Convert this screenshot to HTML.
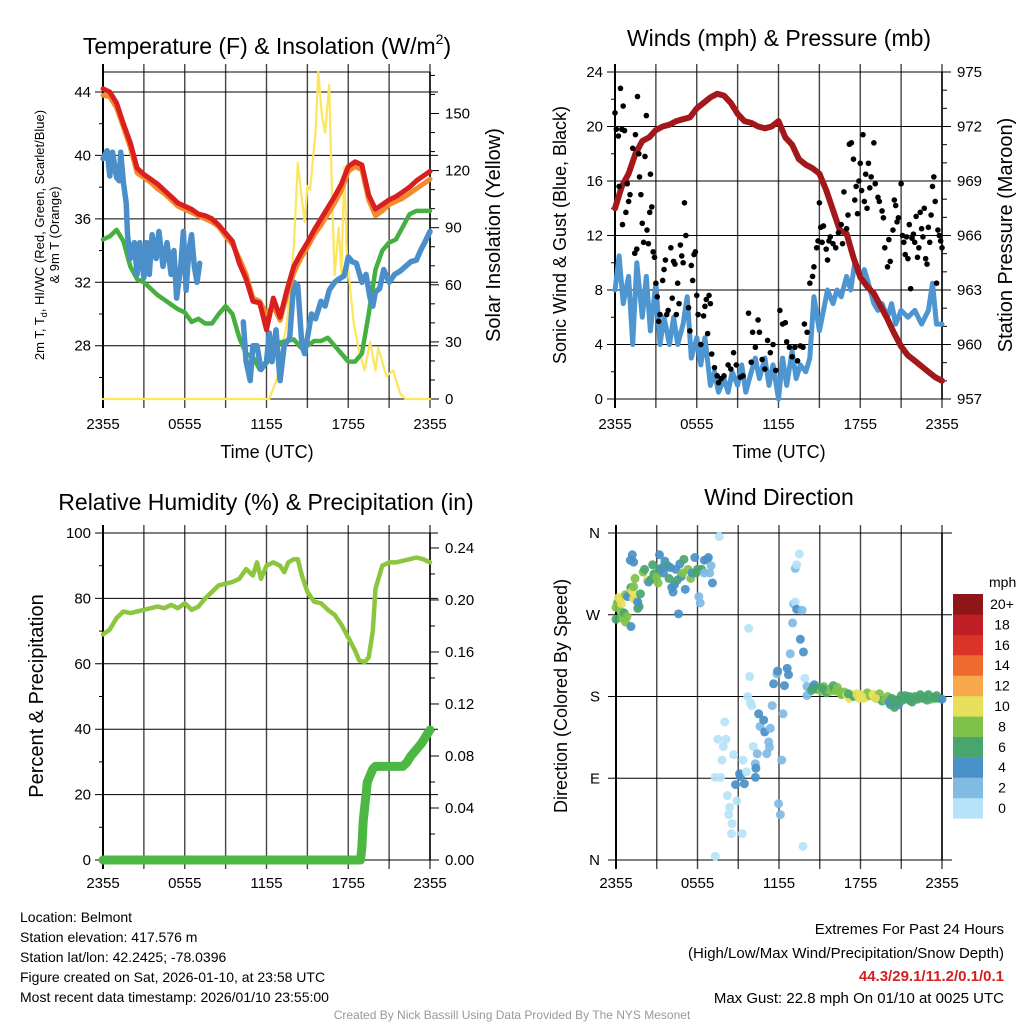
<!DOCTYPE html>
<html><head><meta charset="utf-8"><style>
html,body{margin:0;padding:0;background:#fff;}
svg{display:block;font-family:"Liberation Sans",Arial,sans-serif;}
</style></head><body>
<svg id="s" width="1024" height="1024" viewBox="0 0 1024 1024" xmlns="http://www.w3.org/2000/svg">
<rect width="1024" height="1024" fill="#fff"/>
<text x="267" y="54" font-size="23" text-anchor="middle">Temperature (F) &amp; Insolation (W/m<tspan font-size="14" dy="-10">2</tspan><tspan dy="10">)</tspan></text>
<text x="779" y="46" font-size="23" text-anchor="middle">Winds (mph) &amp; Pressure (mb)</text>
<text x="266" y="510" font-size="23" text-anchor="middle">Relative Humidity (%) &amp; Precipitation (in)</text>
<text x="779" y="505" font-size="23" text-anchor="middle">Wind Direction</text>
<g font-size="18">
<text x="267" y="458" text-anchor="middle">Time (UTC)</text>
<text x="779" y="458" text-anchor="middle">Time (UTC)</text>
<text transform="translate(44,235) rotate(-90)" text-anchor="middle" font-size="13">2m T, T<tspan font-size="9" dy="3">d</tspan><tspan dy="-3">, HI/WC (Red, Green, Scarlet/Blue)</tspan></text>
<text transform="translate(59,235) rotate(-90)" text-anchor="middle" font-size="13">&amp; 9m T (Orange)</text>
<text transform="translate(500,235) rotate(-90)" text-anchor="middle" font-size="20">Solar Insolation (Yellow)</text>
<text transform="translate(566,235) rotate(-90)" text-anchor="middle">Sonic Wind &amp; Gust (Blue, Black)</text>
<text transform="translate(1012,235) rotate(-90)" text-anchor="middle" font-size="20">Station Pressure (Maroon)</text>
<text transform="translate(43,696) rotate(-90)" text-anchor="middle" font-size="20">Percent &amp; Precipitation</text>
<text transform="translate(567,696) rotate(-90)" text-anchor="middle">Direction (Colored By Speed)</text>
</g>
<g font-size="14">
<text x="20" y="922">Location: Belmont</text>
<text x="20" y="942">Station elevation: 417.576 m</text>
<text x="20" y="962">Station lat/lon: 42.2425; -78.0396</text>
<text x="20" y="982">Figure created on Sat, 2026-01-10, at 23:58 UTC</text>
<text x="20" y="1002">Most recent data timestamp: 2026/01/10 23:55:00</text>
<text x="1004" y="934" text-anchor="end" font-size="15">Extremes For Past 24 Hours</text>
<text x="1004" y="958" text-anchor="end" font-size="15">(High/Low/Max Wind/Precipitation/Snow Depth)</text>
<text x="1004" y="981" text-anchor="end" font-size="15" font-weight="bold" fill="#d42020">44.3/29.1/11.2/0.1/0.1</text>
<text x="1004" y="1003" text-anchor="end" font-size="15">Max Gust: 22.8 mph On 01/10 at 0025 UTC</text>
<text x="512" y="1019" text-anchor="middle" font-size="12" fill="#999">Created By Nick Bassill Using Data Provided By The NYS Mesonet</text>
</g>
</svg>
<script>
const xTickLabels=["2355","0555","1155","1755","2355"];
const tempHours=[0,0.5,1,1.5,2,2.5,3,3.5,4,4.5,5,5.5,6,6.5,7,7.5,8,8.5,9,9.5,10,10.5,11,11.5,12,12.5,13,13.5,14,14.5,15,15.5,16,16.5,17,17.5,18,18.5,19,19.5,20,20.5,21,21.5,22,22.5,23,23.5,24];
const tempRed=[44.2,44.0,43.3,42.0,40.8,39.2,38.8,38.5,38.2,37.8,37.4,37.0,36.8,36.6,36.3,36.2,36.0,35.6,35.1,34.6,33.2,32.2,30.8,30.7,29.0,31.0,29.8,31.5,33.0,33.8,34.5,35.3,36.0,36.7,37.4,38.2,39.3,39.6,39.4,37.5,36.6,36.9,37.2,37.4,37.7,38.0,38.4,38.7,39.0];
const tempOrange=[43.8,43.7,43.0,41.8,40.5,38.9,38.6,38.3,37.9,37.6,37.2,36.8,36.6,36.4,36.2,36.0,35.8,35.5,34.9,34.4,33.5,32.5,31.0,30.8,30.0,30.5,29.6,31.2,32.6,33.5,34.2,35.0,35.6,36.3,37.0,37.8,39.0,39.3,39.1,37.2,36.2,36.5,36.9,37.1,37.3,37.6,37.9,38.2,38.5];
const tempGreen=[34.7,34.9,35.3,34.6,33.0,32.2,32.0,31.6,31.2,30.9,30.6,30.3,30.1,29.5,29.7,29.4,29.4,30.0,30.5,30.0,28.5,27.5,27.3,26.5,26.9,27.5,28.2,28.3,28.4,27.9,28.0,28.3,28.3,28.5,28.0,27.5,27.0,27.0,27.5,30.0,32.8,34.0,34.5,34.7,35.5,36.3,36.5,36.5,36.5];
const chillHours=[0,0.3,0.5,0.7,1,1.2,1.3,1.5,1.7,1.8,2,2.3,2.5,2.7,3,3.2,3.4,3.6,3.9,4.1,4.4,4.7,5,5.2,5.4,5.7,5.9,6.1,6.3,6.5,6.7,6.9,7.1,null,10.3,10.5,10.8,11,11.3,11.6,12,12.2,12.4,12.7,13,13.3,13.7,14,14.3,14.6,14.8,15,15.3,15.6,16,16.3,16.6,17,17.3,17.7,18,18.3,18.6,19,19.3,19.6,19.8,20,20.3,20.6,21,21.4,21.8,22.2,22.6,23,23.3,23.6,24];
const chillBlue=[39.8,40.3,38.7,40.2,38.6,38.4,40.2,38.3,37,35,33.5,34.5,32.5,34.5,32.3,34.5,32.5,35,33.5,35.2,33,34.5,32.5,34,31,33,35.2,31.5,34,35,33,32,33.2,null,29.5,27,25.8,28,28,26.5,27,28.8,27,29,25.8,28,28.5,32,31.8,28,27.5,28.5,30,29.7,30.8,30.5,31.5,32,32.2,32.4,33.6,33.3,33.2,32,32.5,31,30.5,31.4,31.6,32.8,32,32.5,32.7,33,33.3,33.4,34,34.5,35.2];
const solarHours=[0,12.2,12.75,13.5,14,14.3,14.6,14.8,15,15.2,15.6,15.8,16.05,16.3,16.6,16.8,17,17.3,17.5,17.7,17.9,18.4,18.8,19.2,19.6,20,20.2,20.8,21.3,21.8,22.2,24];
const solarValues=[0,0,10,40,80,124,105,93,112,110,140,172,150,140,165,110,65,90,65,122,75,40,25,15,30,15,27,12,15,3,0,0];
const windHours=[0,0.3,0.6,1,1.3,1.6,2,2.3,2.6,3,3.3,3.6,4,4.3,4.6,5,5.3,5.6,6,6.3,6.6,7,7.3,7.6,8,8.3,8.6,9,9.3,9.6,10,10.3,10.6,11,11.3,11.6,12,12.3,12.6,13,13.3,13.6,14,14.3,14.6,15,15.3,15.6,16,16.3,16.6,17,17.3,17.6,18,18.3,18.6,19,19.3,19.6,20,20.3,20.6,21,21.5,22,22.5,23,23.3,23.6,24];
const windSpeed=[8,10.5,7,9,4,10,6,9,5,8.5,4,6,4,6,4,5.5,7.5,3,4.5,2.5,4.5,1,2,0.5,1.5,0.5,2,1,2.5,0.5,2,3,1.5,3,1,2.5,0,3,1,3.5,1.5,2.5,2,3,7.5,5,6.5,8,7,8,7.5,9,8,10,9,9.5,8.5,7,6.5,7,6,7,5.5,6.5,6,6.5,5.5,6.5,8.5,5.5,5.5];
const pressHours=[0,0.5,1,1.5,2,2.5,3,3.5,4,4.5,5,5.5,6,6.5,7,7.5,8,8.5,9,9.5,10,10.5,11,11.5,12,12.5,13,13.5,14,14.5,15,15.5,16,16.5,17,17.5,18,18.5,19,19.5,20,20.5,21,21.5,22,22.5,23,23.5,24];
const pressValues=[967.5,968.7,969.4,970.5,971.2,971.4,971.8,972.0,972.1,972.3,972.4,972.5,973.0,973.3,973.6,973.8,973.7,973.3,972.7,972.3,972.2,972.0,971.9,972.0,972.3,971.4,971.0,970.2,969.9,969.7,969.4,968.5,967.4,966.3,966.1,964.8,963.7,963.2,962.8,962.1,961.4,960.6,959.9,959.4,959.1,958.8,958.5,958.2,958.0];
const gustHours=[0,0.1,0.25,0.4,0.3,0.6,0.7,0.5,0.9,1,1.1,0.55,0.8,1.3,1.45,1.5,1.6,1.65,1.75,1.8,1.9,2,2.1,2.2,2.3,2.35,2.45,2.55,2.6,2.7,2.8,2.9,3,3.1,3.2,3.3,3.5,3.6,3.7,3.8,3.9,4.1,4.2,4.3,4.4,4.5,4.6,4.7,4.8,4.9,5,5.1,5.2,5.4,5.5,5.6,5.7,5.8,5.9,6,6.1,6.3,6.5,6.6,6.7,6.8,6.9,7,7.1,7.3,7.5,7.6,7.8,8,8.3,8.5,8.7,8.9,9.2,9.4,9.8,10,10.1,10.3,10.5,10.6,10.8,11,11.2,11.4,11.6,11.8,12.1,12.3,12.5,12.6,12.8,13,13.2,13.4,13.6,13.8,13.9,14.1,14.3,14.5,14.6,14.8,14.9,15,15.1,15.2,15.3,15.5,15.6,15.7,15.8,16,16.2,16.4,16.6,16.7,16.8,17,17.1,17.2,17.35,17.5,17.6,17.7,17.8,17.9,18,18.1,18.2,18.3,18.4,18.5,18.6,18.7,18.8,19,19.1,19.3,19.4,19.6,19.7,19.8,20,20.1,20.2,20.4,20.5,20.6,20.7,20.8,21,21.1,21.2,21.3,21.4,21.5,21.6,21.7,21.8,21.9,22,22.1,22.2,22.3,22.4,22.5,22.6,22.7,22.8,22.9,23,23.1,23.2,23.3,23.4,23.5,23.6,23.7,23.8,23.9,24];
const gustValues=[21,19.8,19.3,22.8,15.6,21.5,19.7,19.8,15.8,14.5,15,12.8,13.7,18.4,10.7,19.4,11,22.2,18,16.3,15,12.9,11.5,17.8,20.8,12.4,11.4,13.7,16.5,14.1,10.8,10.4,8.5,7.5,5.7,6.2,8.7,9.5,10.2,6.2,6.5,11.1,7.4,10.1,9.9,6.2,8.5,7,11.3,10.5,10,14.4,12,6.7,5,9.8,8.7,10.6,10.8,7.6,6.2,4,6.1,6.8,7.3,4.8,7.6,7,3.3,2.3,1.7,1.2,1.5,1.7,2.5,2.2,3.4,2.5,1.6,1.7,6.3,2.7,4.9,3.8,5.8,4.9,2.9,2.2,4.3,3.4,4,2.1,6.5,5.5,5.6,4.2,3.8,3.1,3.8,2.8,3.9,3.8,5.5,4.9,8.5,9,9.7,11.1,11.6,14.4,12.6,11.5,12.7,11,10.2,11.6,11.9,11.4,11.1,12.2,12.8,11.4,15.2,12.5,13.5,18.7,18.8,17.6,14.6,15.6,13.6,16,17.3,15.3,19.4,14.5,16.5,14,17.3,15.5,16.3,18.8,15.8,14.8,14.5,13.8,13.3,11.1,9.7,11.7,10.1,12.4,14.6,14.2,13,13.3,15.8,12,11.5,10.6,11.9,10.3,12.8,8.1,11.8,12.1,11.5,13.4,10.4,11.1,13.7,12.5,11.9,14,10.3,9.9,12.6,11.5,13.5,15.6,16.3,14.5,8.5,12.4,12,11.6,11.1];
const rhHours=[0,0.5,1,1.5,2,2.5,3,3.5,4,4.5,5,5.5,6,6.5,7,7.5,8,8.5,9,9.5,10,10.5,11,11.3,11.6,12,12.5,13,13.3,13.6,14,14.3,14.6,15,15.5,16,16.5,17,17.5,18,18.5,18.8,19.2,19.5,19.8,20,20.5,21,21.5,22,22.5,23,23.5,24];
const rhValues=[69,70.5,74,76,75.5,76,76.5,77,77.5,77,78,77,78.5,76.5,77.5,80,82,84,84.5,85,86,89,87,91,86,90,91,90,88,91,92,92,87,82,79,78.5,76.5,75,72,68,64,61,60.5,62,70,83,90,91,91,91.5,92,92.5,92,91];
const precipHours=[0,18.9,19.0,19.1,19.2,19.3,19.4,19.6,19.8,20,22,22.3,22.6,23,23.4,23.8,24];
const precipValues=[0,0,0.01,0.03,0.04,0.05,0.06,0.065,0.07,0.072,0.072,0.075,0.08,0.085,0.09,0.097,0.1];
const dirHours=[0,0,0.1,0.2,0.3,0.4,0.4,0.5,0.6,0.7,0.7,0.8,0.85,1.05,1.1,1.2,1.3,1.4,1.5,1.6,1.7,1.3,1.2,1.1,1.3,1.6,1.8,2.0,2.1,2.3,2.4,2.6,2.7,2.8,3.0,3.1,3.2,3.4,3.5,3.6,3.2,3.8,3.9,4.0,4.1,4.2,4.3,4.4,4.5,4.6,4.7,4.8,4.9,5.0,5.1,5.3,5.5,5.6,5.8,5.9,6.0,6.1,6.2,6.3,6.5,6.5,6.7,6.8,6.9,7.0,7.1,7.6,7.31,7.3,7.7,7.5,8.1,8.0,7.9,7.8,8.2,8.37,8.3,8.54,8.5,8.66,8.9,8.8,9.1,9.15,9.45,9.3,9.35,9.6,9.77,9.84,9.7,9.9,10.0,10.1,10.26,10.3,10.26,10.4,10.5,10.6,10.87,10.95,11.24,11.1,11.3,11.36,11.5,11.6,11.85,11.9,11.97,12.1,12.2,12.3,12.4,12.6,12.7,12.83,13.0,13.08,13.2,13.3,13.57,13.7,13.8,13.2,13.3,13.5,13.77,13.9,14.06,14.06,14.3,14.5,14.6,14.8,15,15.1,15.3,15.5,15.6,15.8,16,16.1,16.3,16.5,16.6,16.8,17,17.2,17.4,17.5,17.7,17.9,18,18.2,18.4,18.5,18.7,18.9,19,19.2,19.4,19.6,19.8,20,20.2,20.3,20.5,20.6,20.8,21,21.1,21.3,21.5,21.6,21.8,22,22.2,22.4,22.6,22.8,23,23.2,23.4,23.6,23.8,24,20.1,20.4,20.7,21.2,21.7,22.3,22.9,23.5,15.2,16.2,17.1,18.1,19.1,14.4];
const dirValues=[265,278,283,289,287,282,273,266,272,262,292,268,290,330,300,296,301,310,286,277,279,328,336,257,288,284,293,317,320,308,306,309,325,315,312,305,320,322,316,329,336,324,310,322,300,295,303,320,308,271,326,312,316,331,298,320,310,316,333,316,320,290,283,320,330,316,331,333,316,324,305,356,4,91,91,133,133,152,125,110,71,58,50,40,29,116,65,83,95,92,84,29,110,97,255,202,180,173,170,125,106,101,91,117,161,147,154,141,130,117,124,145,170,194,205,208,62,50,110,161,192,211,204,227,261,282,284,276,243,275,229,321,325,337,15,200,191,181,186,190,193,188,190,186,191,184,188,186,192,188,190,185,182,185,182,178,182,180,183,178,182,178,179,184,181,182,182,178,183,175,176,180,171,178,168,176,171,181,176,181,177,180,174,180,177,182,178,180,182,177,179,181,178,177,174,176,173,178,175,179,176,178,189,186,183,180,178,187];
const dirSpeed=[6,8,8,10,10,10,8,8,6,8,8,8,4,4,6,10,8,8,4,6,6,4,4,4,10,4,6,8,6,10,4,6,6,6,8,8,6,4,4,4,4,6,6,4,4,4,4,4,6,4,4,4,8,6,4,8,8,4,4,6,6,2,2,6,4,2,4,4,2,2,4,0,0,0,0,0,0,0,0,0,0,0,0,0,0,0,0,4,4,4,4,0,0,0,0,0,0,0,0,0,2,4,4,2,4,2,4,4,2,2,2,2,2,4,2,4,2,2,2,2,4,4,4,2,2,2,0,4,4,2,4,2,0,0,0,0,2,2,2,6,4,6,6,8,8,6,8,8,6,6,8,8,8,8,10,10,10,6,10,10,10,10,10,8,8,10,10,6,8,6,8,8,6,6,6,6,4,6,6,6,6,6,6,6,6,6,6,6,6,8,6,6,6,4,4,6,6,6,6,6,6,6,6,8,6,10,10,6,6];
const speedBinLabels=["0","2","4","6","8","10","12","14","16","18","20+"];
const speedBinColors=["#b6e3f8","#80bbe4","#4a90c8","#49a56e","#7fc24a","#e6e05a","#f6a84a","#ef6a2e","#dc3328","#be1e24","#8e1518"];

const NS="http://www.w3.org/2000/svg";
const svg=document.getElementById('s');
function mk(tag,attrs,parent){const e=document.createElementNS(NS,tag);for(const k in attrs)e.setAttribute(k,attrs[k]);(parent||svg).appendChild(e);return e;}
function lin(d0,d1,r0,r1){return v=>r0+(v-d0)*(r1-r0)/(d1-d0);}

const panels=[
 {name:'temperature',x0:103,x1:430,yT:72,yB:399,L:[24.64,45.26],Lmaj:[28,32,36,40,44],Lmin:[26,30,34,38,42],R:[0,171.8],Rmaj:[0,30,60,90,120,150],Rmin:[10,20,40,50,70,80,100,110,130,140,160,170],Rfmt:v=>String(v),lab:429},
 {name:'winds',x0:615,x1:942,yT:72,yB:399,L:[0,24],Lmaj:[0,4,8,12,16,20,24],Lmin:[2,6,10,14,18,22],R:[957,975],Rmaj:[957,960,963,966,969,972,975],Rmin:[958,959,961,962,964,965,967,968,970,971,973,974],Rfmt:v=>String(v),lab:429},
 {name:'humidity',x0:103,x1:430,yT:533,yB:860,L:[0,100],Lmaj:[0,20,40,60,80,100],Lmin:[10,30,50,70,90],R:[0,0.2515],Rmaj:[0,0.04,0.08,0.12,0.16,0.2,0.24],Rmin:[0.02,0.06,0.1,0.14,0.18,0.22],Rfmt:v=>v.toFixed(2),lab:888},
 {name:'direction',x0:616,x1:942,yT:533,yB:860,L:[0,360],Lmaj:[0,90,180,270,360],Lmin:[],R:null,Lfmt:v=>({0:'N',90:'E',180:'S',270:'W',360:'N'})[v],lab:888}
];
panels.forEach(p=>{
 p.X=lin(0,24,p.x0,p.x1);p.YL=lin(p.L[0],p.L[1],p.yB,p.yT);if(p.R)p.YR=lin(p.R[0],p.R[1],p.yB,p.yT);
 const g=mk('g',{});
 
 
 for(let h=0;h<=24;h+=3){const x=p.X(h);
  const gl=mk('line',{x1:x,x2:x,y1:p.yT-8,y2:p.yB+9,stroke:(h==0)?'#000':'#444','stroke-width':(h==0)?2:1.4},g);
  
  
  if(h%6==0){const t=mk('text',{x:x,y:p.lab,'font-size':15,'text-anchor':'middle'},g);t.textContent=xTickLabels[h/6];
   
   }
 }
 const right=p.R?p.x1+8:p.x1+10;
 p.Lmaj.forEach(v=>{const y=p.YL(v);
  const l=mk('line',{x1:p.x0-8,x2:right,y1:y,y2:y,stroke:'#000','stroke-width':1},g);
  
  
  const t=mk('text',{x:p.name=='direction'?p.x0-16:p.x0-12,y:y+5,'font-size':15,'text-anchor':'end'},g);t.textContent=p.Lfmt?p.Lfmt(v):String(v);
  
  });
 p.Lmin.forEach(v=>{const y=p.YL(v);mk('line',{x1:p.x0-4,x2:p.x0,y1:y,y2:y,stroke:'#000'},g);});
 mk('line',{x1:p.x0,x2:p.x1,y1:p.yT,y2:p.yT,stroke:'#000'},g);
 mk('line',{x1:p.x0,x2:p.x1,y1:p.yB,y2:p.yB,stroke:'#000'},g);
 mk('line',{x1:p.x1,x2:p.x1,y1:p.yT,y2:p.yB,stroke:'#000','stroke-width':1.5},g);
 if(p.R){
  p.Rmaj.forEach(v=>{const y=p.YR(v);mk('line',{x1:p.x1,x2:p.x1+9,y1:y,y2:y,stroke:'#000'},g);
   const t=mk('text',{x:p.x1+15,y:y+5,'font-size':15},g);t.textContent=p.Rfmt(v);
   
   });
  p.Rmin.forEach(v=>{const y=p.YR(v);if(y>=p.yT-1)mk('line',{x1:p.x1,x2:p.x1+5,y1:y,y2:y,stroke:'#000'},g);});
 }
});
function pathFrom(hs,vs,X,Y){let d='',pen=false;for(let i=0;i<hs.length;i++){if(hs[i]==null||vs[i]==null){pen=false;continue;}d+=(pen?'L':'M')+X(hs[i]).toFixed(1)+','+Y(vs[i]).toFixed(1);pen=true;}return d;}
function line(name,hs,vs,X,Y,color,w){const e=mk('path',{d:pathFrom(hs,vs,X,Y),fill:'none',stroke:color,'stroke-width':w,'stroke-linejoin':'round','stroke-linecap':'round'});
 
 return e;}
const P1=panels[0],P2=panels[1],P3=panels[2],P4=panels[3];
line('solar-insolation-line',solarHours,solarValues,P1.X,P1.YR,'#fde55c',2.2);
line('green-dewpoint-line',tempHours,tempGreen,P1.X,P1.YL,'#45b040',4.5);
line('blue-windchill-line',chillHours,chillBlue,P1.X,P1.YL,'#4a8fca',5.5);
line('orange-9m-temp-line',tempHours,tempOrange,P1.X,P1.YL,'#f5892c',5);
line('red-2m-temp-line',tempHours,tempRed,P1.X,P1.YL,'#d9201f',5);
line('sonic-wind-line',windHours,windSpeed,P2.X,P2.YL,'#4e96d2',5);
line('pressure-line',pressHours,pressValues,P2.X,P2.YR,'#a3181b',6);
gustHours.forEach((h,i)=>{const c=mk('circle',{cx:P2.X(h),cy:P2.YL(gustValues[i]),r:2.8,fill:'#000'});
 
 });
line('relative-humidity-line',rhHours,rhValues,P3.X,P3.YL,'#8cc63f',4.5);
line('precipitation-line',precipHours,precipValues,P3.X,P3.YR,'#4cb843',9);
dirHours.forEach((h,i)=>{const b=Math.min(10,Math.round(dirSpeed[i]/2));
 const c=mk('circle',{cx:P4.X(h),cy:P4.YL(dirValues[i]),r:4.5,fill:speedBinColors[b],'fill-opacity':0.92});
 
 });
const cb=mk('g',{});


const cbt=mk('text',{x:989,y:587,'font-size':14,'text-anchor':'start'},cb);cbt.textContent='mph';
speedBinLabels.forEach((lab,i)=>{const y=798-i*20.4;
 const r=mk('rect',{x:953,y:y,width:30,height:20.6,fill:speedBinColors[i]},cb);
 
 
 const t=mk('text',{x:1002,y:y+15,'font-size':14,'text-anchor':'middle'},cb);t.textContent=lab;
 
 });
</script>
</body></html>
